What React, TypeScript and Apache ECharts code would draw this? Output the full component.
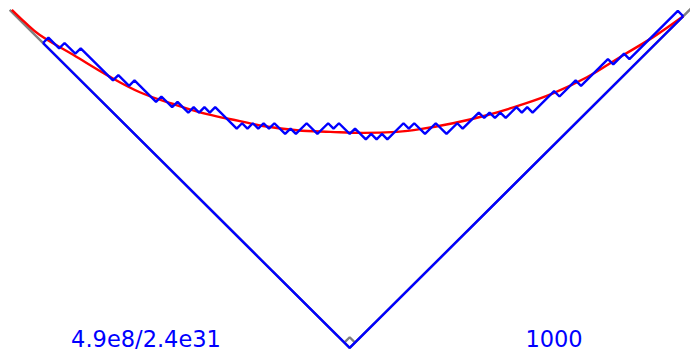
import React, { useEffect, useRef } from "react";
import * as echarts from "echarts";

// Lattice walk, as signed run lengths: +n = n up-right steps, -n = n down-right steps
const walkRuns: number[] = [
  1, -2, 1, -2, 1, -6, 1, -2, 1, -4,
  1, -2, 1, -2, 1, -1, 1, -1, 1, -4,
  1, -1, 1, -1, 1, -1, 1, -2, 1, -1,
  2, -2, 2, -1, 1, -2, 1, -2, 1, -1,
  1, -1, 3, -1, 1, -2, 2, -2, 2, -1,
  3, -1, 1, -1, 1, -1, 2, -1, 1, -1,
  4, -1, 3, -1, 5, -1, 2, -1, 9, -1,
];

// Extreme path (all downs then all ups)
const extremeX: number[] = [0, 57, 119];
const extremeY: number[] = [0, -57, 5];

// Grey frame lines
const frameX: number[] = [-6.2, 57, 120.6];
const frameY: number[] = [6.2, -57, 6.6];
const cellX: number[] = [56, 57, 58];
const cellY: number[] = [-56, -55, -56];

// Red expected curve
const curveX: number[] = [
  -5.8, -3.4, -0.6, 5.6, 11.9, 18.0, 24.2, 30.5, 36.6, 40.9, 47.2, 53.4,
  59.5, 65.8, 70.1, 76.2, 82.5, 88.7, 94.8, 101.1, 107.3, 113.4, 119.0,
];
const curveY: number[] = [
  6.2, 3.9, 1.5, -2.2, -6.0, -9.2, -11.4, -13.3, -14.6, -15.5, -16.3, -16.6,
  -16.8, -16.6, -16.1, -15.0, -13.5, -11.6, -9.4, -6.4, -2.6, 1.1, 5.0,
];

const leftLabel = "4.9e8/2.4e31";
const rightLabel = "1000";

const zip = (xs: number[], ys: number[]) => xs.map((x, i) => [x, ys[i]]);

function buildWalk(runs: number[]): number[][] {
  const pts: number[][] = [[0, 0]];
  let x = 0;
  let y = 0;
  for (const r of runs) {
    const n = Math.abs(r);
    const s = Math.sign(r);
    x += n;
    y += s * n;
    pts.push([x, y]);
  }
  return pts;
}

export default function App() {
  const ref = useRef<HTMLDivElement>(null);
  useEffect(() => {
    if (!ref.current) return;
    const chart = echarts.init(ref.current, undefined, { renderer: "svg" });
    const lineBase = {
      type: "line",
      symbol: "none",
      silent: true,
      animation: false,
    };
    const textStyle = {
      fill: "#0000ff",
      fontSize: 22.5,
      lineHeight: 22,
      fontFamily: "DejaVu Sans",
      align: "center",
      verticalAlign: "middle",
    };
    chart.setOption({
      animation: false,
      grid: { left: 0, right: 0, top: 0, bottom: 0, containLabel: false },
      xAxis: { type: "value", min: -8, max: 120.26, show: false },
      yAxis: { type: "value", min: -57.94, max: 8.04, show: false },
      series: [
        {
          ...lineBase,
          z: 1,
          data: zip(frameX, frameY),
          lineStyle: { color: "#808080", width: 2.4 },
        },
        {
          ...lineBase,
          z: 1,
          data: zip(cellX, cellY),
          lineStyle: { color: "#808080", width: 2.4 },
        },
        {
          ...lineBase,
          z: 2,
          smooth: 0.4,
          data: zip(curveX, curveY),
          lineStyle: { color: "#ff0000", width: 2.4 },
        },
        {
          ...lineBase,
          z: 3,
          data: zip(extremeX, extremeY),
          lineStyle: { color: "#0000ff", width: 2.4 },
        },
        {
          ...lineBase,
          z: 3,
          data: buildWalk(walkRuns),
          lineStyle: { color: "#0000ff", width: 2.4 },
        },
      ],
      graphic: [
        {
          type: "text",
          x: 146,
          y: 339,
          style: { ...textStyle, text: leftLabel },
        },
        {
          type: "text",
          x: 554,
          y: 339,
          style: { ...textStyle, text: rightLabel },
        },
      ],
    });
    return () => chart.dispose();
  }, []);
  return (
    <div
      ref={ref}
      style={{ position: "absolute", left: 0, top: 0, width: 690, height: 353 }}
    />
  );
}
